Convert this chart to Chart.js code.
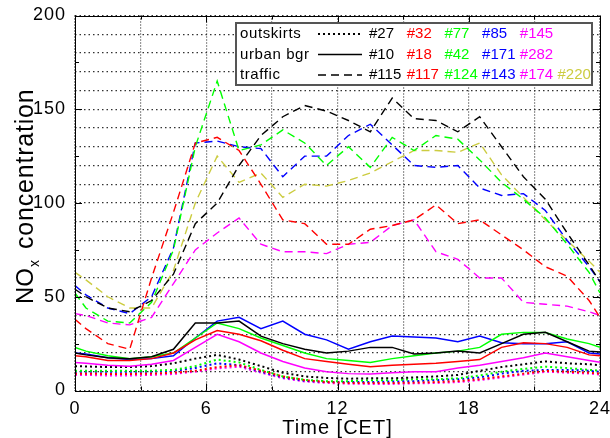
<!DOCTYPE html>
<html>
<head>
<meta charset="utf-8">
<script src="https://cdn.jsdelivr.net/npm/chart.js@4.4.1/dist/chart.umd.min.js"></script>
<style>
  html, body { margin: 0; padding: 0; background: #fff; }
  #wrap { width: 610px; height: 438px; position: relative; }
</style>
</head>
<body>
<div id="wrap"><canvas id="nox"></canvas></div>
<script>
// hourly means plotted at half hours, with the day edges at 0 and 24
const hours = [0, 0.5, 1.5, 2.5, 3.5, 4.5, 5.5, 6.5, 7.5, 8.5, 9.5, 10.5, 11.5,
    12.5, 13.5, 14.5, 15.5, 16.5, 17.5, 18.5, 19.5, 20.5, 21.5, 22.5, 23.5, 24];

// outskirts (dotted)
const out27  = [13, 12.8, 12.5, 12.5, 13, 14.5, 17, 19, 16.5, 13, 9.5, 7.5, 6.7, 6.3, 6.5, 6.5, 7, 7.5, 8.3, 10.5, 12.5, 14, 15.5, 14.5, 14, 13.5];
const out32  = [9, 9, 8.8, 8.8, 9, 9.5, 10.5, 12.5, 13.5, 10.5, 7.5, 5.5, 4.5, 4, 4, 4, 4.2, 4.5, 5, 6, 7.5, 9, 10.5, 10, 9.5, 9];
const out77  = [10.6, 10.6, 10.5, 10.5, 10.6, 11, 13, 16.5, 15, 11, 7.5, 5.7, 5, 5, 5.5, 5.5, 6, 6, 6.5, 8, 10, 11.5, 12.7, 12, 11, 10.6];
const out85  = [10, 10, 10, 10, 10, 10.5, 12, 14.5, 13.5, 10, 7, 5.2, 4.6, 4.5, 4.5, 4.8, 5, 5.5, 6, 7, 9, 10.5, 11, 11, 10.5, 10];
const out145 = [8.3, 8.3, 8, 8, 8.3, 8.8, 10, 11.8, 12.7, 9.5, 6.5, 4.8, 4, 3.6, 3.5, 3.5, 3.8, 4, 4.5, 5.5, 7, 8.5, 10, 9.5, 9, 8.5];

// urban background (solid)
const urb10  = [20, 19, 17.5, 17, 18, 22, 36, 36, 37, 29, 25, 22, 20, 21, 23, 23, 19.5, 20, 21, 20, 25, 30, 31, 26, 21, 20.5];
const urb18  = [18.5, 18, 16, 16, 17, 20, 27, 32, 30, 26.5, 21.5, 17, 15.5, 14, 12.7, 13.5, 14, 14.5, 15.5, 16.5, 23, 25.5, 25, 23, 19, 18.5];
const urb42  = [23, 21, 18.5, 17, 18, 20, 28, 36, 33, 28, 24, 20, 17, 16, 15, 17, 18.5, 20, 21, 23, 30, 31, 31, 27.5, 25, 23];
const urb171 = [20, 19.5, 17.5, 16.5, 17, 18.5, 28, 37, 39, 33, 37, 30, 27, 22, 26, 29, 28.5, 28, 26, 29, 25.5, 25, 25, 26, 20, 19.5];
const urb282 = [15, 14.5, 13.5, 13, 14, 16, 23, 30, 26, 20, 15.5, 12, 10, 9, 8.8, 9.5, 10, 10, 12, 13.5, 15.5, 17.5, 20, 18, 16, 15];

// traffic (dashed)
const trf115 = [54, 50, 44, 42, 48, 62, 89, 100, 120, 136, 146, 152, 149, 144, 138, 156, 145, 144, 138, 146, 130, 114, 102, 84, 67, 58];
const trf117 = [38, 33, 25, 22, 60, 95, 132, 135, 128, 110, 91, 89, 78, 78, 86, 88, 91, 99, 89, 91, 83, 75, 66, 61, 48, 39];
const trf124 = [52, 44, 37, 36, 47, 75, 130, 165, 128, 131, 139, 132, 120, 130, 119, 135, 128, 136, 134, 123, 111, 102, 92, 78, 63, 52];
const trf143 = [56, 51, 44, 41, 50, 76, 132, 133, 130, 129, 114, 125, 125, 136, 142, 131, 120, 119, 120, 108, 104, 105, 96, 80, 66, 58];
const trf174 = [41, 40, 36, 35, 39, 57, 75, 84, 92, 78, 74, 74, 73, 78, 79, 88, 91, 74, 70, 60, 60, 47, 46, 45, 42, 40];
const trf220 = [63, 59, 50, 44, 44, 64, 100, 125, 111, 116, 103, 110, 109, 112, 116, 122, 128, 128, 127, 132, 115, 103, 91, 80, 69, 63];

const xTicks = [0, 6, 12, 18, 24];
const yTicks = [0, 50, 100, 150, 200];

const colBlack = '#000000';
const colRed = '#ff0000';
const colGreen = '#00ff00';
const colBlue = '#0000ff';
const colMagenta = '#ff00ff';
const colYellow = '#cccc40';

const FONT = "'Liberation Sans', Arial, sans-serif";

const legendRows = [
    { name: 'outskirts', dash: [2, 3], ids: [['#27', colBlack], ['#32', colRed], ['#77', colGreen], ['#85', colBlue], ['#145', colMagenta]] },
    { name: 'urban bgr', dash: [], ids: [['#10', colBlack], ['#18', colRed], ['#42', colGreen], ['#171', colBlue], ['#282', colMagenta]] },
    { name: 'traffic', dash: [8, 5], ids: [['#115', colBlack], ['#117', colRed], ['#124', colGreen], ['#143', colBlue], ['#174', colMagenta], ['#220', colYellow]] }
];

function series(label, values, color, dash, width) {
    return {
        label: label,
        data: hours.map(function(h, i) { return { x: h, y: values[i] }; }),
        borderColor: color,
        borderWidth: width,
        borderDash: dash,
        pointRadius: 0,
        tension: 0,
        fill: false
    };
}

const dotted = [2, 3];
const dashed = [8, 5];

const datasets = [
    series('#115', trf115, colBlack, dashed, 1.4),
    series('#117', trf117, colRed, dashed, 1.4),
    series('#124', trf124, colGreen, dashed, 1.4),
    series('#143', trf143, colBlue, dashed, 1.4),
    series('#174', trf174, colMagenta, dashed, 1.4),
    series('#220', trf220, colYellow, dashed, 1.4),
    series('#10', urb10, colBlack, [], 1.5),
    series('#18', urb18, colRed, [], 1.5),
    series('#42', urb42, colGreen, [], 1.5),
    series('#171', urb171, colBlue, [], 1.5),
    series('#282', urb282, colMagenta, [], 1.5),
    series('#27', out27, colBlack, dotted, 2),
    series('#32', out32, colRed, dotted, 2),
    series('#77', out77, colGreen, dotted, 2),
    series('#85', out85, colBlue, dotted, 2),
    series('#145', out145, colMagenta, dotted, 2)
];

// frame, inward ticks, y title with subscript, and the boxed legend
const decorations = {
    id: 'decorations',
    beforeDraw: function(chart) {
        chart.ctx.letterSpacing = '1px';
    },
    afterDraw: function(chart) {
        const ctx = chart.ctx;
        const a = chart.chartArea;
        const xs = chart.scales.x;
        const ys = chart.scales.y;

        ctx.save();
        ctx.strokeStyle = '#000';
        ctx.lineWidth = 1;
        ctx.setLineDash([]);
        ctx.strokeRect(Math.round(a.left) + 0.5, Math.round(a.top) + 0.5,
            Math.round(a.right - a.left), Math.round(a.bottom - a.top));

        ctx.beginPath();
        for (let v = 0; v <= 200; v += 25) {
            const y = Math.round(ys.getPixelForValue(v)) + 0.5;
            const len = v % 50 === 0 ? 7 : 4;
            ctx.moveTo(a.left, y); ctx.lineTo(a.left + len, y);
            ctx.moveTo(a.right, y); ctx.lineTo(a.right - len, y);
        }
        for (let h = 0; h <= 24; h += 3) {
            const x = Math.round(xs.getPixelForValue(h)) + 0.5;
            const len = h % 6 === 0 ? 7 : 4;
            ctx.moveTo(x, a.bottom); ctx.lineTo(x, a.bottom - len);
            ctx.moveTo(x, a.top); ctx.lineTo(x, a.top + len);
        }
        ctx.stroke();

        // y axis title: NO_x concentration, laid out bottom to top
        ctx.fillStyle = '#000';
        ctx.translate(33, 0);
        ctx.rotate(-Math.PI / 2);
        ctx.textBaseline = 'alphabetic';
        ctx.textAlign = 'left';
        ctx.letterSpacing = '0px';
        ctx.font = '24px ' + FONT;
        ctx.fillText('NO', -304, 0);
        const wNO = ctx.measureText('NO').width;
        ctx.font = '14px ' + FONT;
        ctx.fillText('x', -304 + wNO + 1, 6);
        ctx.letterSpacing = '0.8px';
        ctx.font = '25px ' + FONT;
        ctx.fillText('concentration', -249, 0);
        ctx.restore();

        // legend box
        ctx.save();
        const bx = 236, by = 23, bw = 356, bh = 62;
        ctx.fillStyle = '#fff';
        ctx.fillRect(bx, by, bw, bh);
        ctx.strokeStyle = '#555';
        ctx.lineWidth = 2;
        ctx.strokeRect(bx, by, bw, bh);
        ctx.font = '15px ' + FONT;
        ctx.textBaseline = 'middle';
        ctx.textAlign = 'left';
        legendRows.forEach(function(row, r) {
            const y = by + 11 + r * 20.5;
            ctx.fillStyle = '#000';
            ctx.letterSpacing = '0.6px';
            ctx.fillText(row.name, 240, y);
            ctx.beginPath();
            ctx.setLineDash(row.dash);
            ctx.lineWidth = row.dash.length && row.dash[0] === 2 ? 2 : 1.5;
            ctx.strokeStyle = '#000';
            ctx.moveTo(318, y);
            ctx.lineTo(362, y);
            ctx.stroke();
            ctx.setLineDash([]);
            ctx.letterSpacing = '0px';
            row.ids.forEach(function(id, c) {
                ctx.fillStyle = id[1];
                ctx.fillText(id[0], 369 + c * 37.7, y);
            });
        });
        ctx.restore();
        ctx.letterSpacing = '0px';
    }
};

function initNoxChart(canvasId) {
    const ctx = document.getElementById(canvasId);
    if (!ctx) return;

    new Chart(ctx, {
        type: 'line',
        data: { datasets: datasets },
        options: {
            responsive: true,
            maintainAspectRatio: false,
            animation: false,
            layout: { padding: { left: 0, right: 10, top: 15.5, bottom: 0 } },
            scales: {
                x: {
                    type: 'linear',
                    min: 0,
                    max: 24,
                    afterFit: function(scale) {
                        scale.height = 47.5;
                        scale.paddingLeft = 0;
                        scale.paddingRight = 0;
                    },
                    afterBuildTicks: function(scale) {
                        scale.ticks = [0, 3, 6, 9, 12, 15, 18, 21, 24].map(function(v) { return { value: v }; });
                    },
                    ticks: {
                        autoSkip: false,
                        maxRotation: 0,
                        padding: 8,
                        color: '#000',
                        font: { size: 18, family: FONT },
                        callback: function(value) {
                            return xTicks.indexOf(value) >= 0 ? String(value) : '';
                        }
                    },
                    grid: { color: '#333', lineWidth: 1.2, drawTicks: false },
                    border: { display: false, dash: [1, 2] },
                    title: {
                        display: true,
                        text: 'Time [CET]',
                        color: '#000',
                        font: { size: 20, family: FONT, lineHeight: 1 },
                        padding: { top: 0, bottom: 0 }
                    }
                },
                y: {
                    type: 'linear',
                    min: 0,
                    max: 200,
                    afterFit: function(scale) {
                        scale.width = 75;
                        scale.paddingTop = 0;
                        scale.paddingBottom = 0;
                    },
                    ticks: {
                        stepSize: 10,
                        autoSkip: false,
                        padding: 9,
                        color: '#000',
                        font: { size: 18, family: FONT },
                        callback: function(value) {
                            return yTicks.indexOf(value) >= 0 ? String(value) : '';
                        }
                    },
                    grid: { color: '#333', lineWidth: 1.2, drawTicks: false },
                    border: { display: false, dash: [1.5, 3] }
                }
            },
            plugins: {
                legend: { display: false },
                tooltip: { enabled: false }
            }
        },
        plugins: [decorations]
    });
}

initNoxChart('nox');
</script>
</body>
</html>
